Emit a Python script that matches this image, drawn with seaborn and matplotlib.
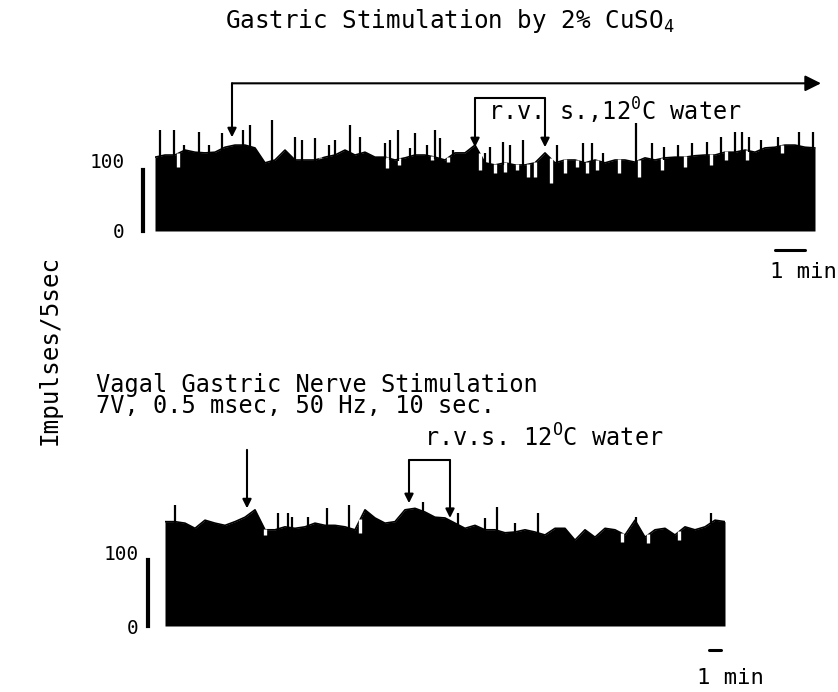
import matplotlib
matplotlib.use('Agg')
import matplotlib.pyplot as plt
import numpy as np
import seaborn as sns

# ---- upper record: gastric stimulation by 2% CuSO4 (time in s) ----
top_t = np.arange(0, 1321, 20)
top_level = [104, 107, 107, 114, 111, 110, 111, 118, 121, 121,
             117, 96, 100, 114, 100, 100, 100, 104, 107, 114,
             107, 111, 104, 104, 100, 103, 107, 107, 104, 100,
             110, 110, 121, 96, 93, 96, 93, 93, 96, 110,
             96, 100, 100, 96, 100, 96, 100, 100, 97, 103,
             100, 103, 104, 104, 106, 107, 107, 111, 111, 114,
             111, 117, 118, 121, 121, 118, 117]
top_spike_t = [10, 38, 58, 88, 108, 134, 176, 190, 234, 280,
               294, 320, 348, 360, 390, 410, 460, 470, 486, 510,
               520, 544, 560, 570, 596, 660, 670, 696, 710, 736,
               804, 856, 874, 896, 962, 994, 1018, 1046, 1074, 1104,
               1132, 1160, 1174, 1188, 1212, 1246, 1288, 1316]
top_spike_v = [142, 142, 121, 139, 121, 138, 142, 149, 156, 132,
               128, 131, 121, 128, 149, 132, 124, 128, 142, 117,
               138, 121, 142, 131, 114, 110, 118, 125, 121, 128,
               121, 124, 124, 110, 152, 124, 118, 121, 124, 125,
               132, 139, 139, 132, 128, 132, 139, 139]
top_dip_t = [46, 330, 464, 488, 554, 586, 650, 680, 700, 724,
             746, 760, 792, 820, 844, 864, 884, 928, 968, 1014,
             1060, 1112, 1142, 1184, 1254]
top_dip_v = [90, 104, 89, 93, 100, 97, 86, 82, 83, 86,
             76, 76, 68, 82, 90, 82, 86, 82, 76, 86,
             90, 93, 100, 100, 110]
top_stim = 154            # CuSO4 given
top_rvs = (640, 780)      # r.v.s., 12 C water

# ---- lower record: vagal gastric nerve stimulation (time in s) ----
bot_t = np.arange(0, 2801, 50)
bot_level = [141, 141, 139, 132, 143, 139, 136, 141, 147, 157,
             130, 130, 134, 132, 134, 139, 136, 136, 134, 130,
             157, 146, 139, 141, 157, 159, 154, 147, 146, 139,
             132, 136, 130, 130, 126, 127, 130, 127, 123, 132,
             132, 116, 130, 120, 132, 130, 123, 143, 120, 130,
             132, 123, 134, 130, 134, 143, 141]
bot_spike_t = [50, 565, 615, 635, 715, 810, 920, 1290, 1465, 1600,
               1660, 1750, 1865, 2355, 2730]
bot_spike_v = [164, 153, 153, 147, 147, 159, 164, 168, 153, 146,
               161, 139, 153, 147, 153]
bot_dip_t = [500, 975, 2285, 2415, 2570]
bot_dip_v = [123, 126, 114, 112, 116]
bot_stim = 410
bot_rvs = (1220, 1425)

sns.set_style('white')
plt.rcParams['font.family'] = ['DejaVu Sans Mono', 'DejaVu Sans']
plt.rcParams['mathtext.fontset'] = 'custom'
plt.rcParams['mathtext.rm'] = 'DejaVu Sans Mono'
plt.rcParams['mathtext.it'] = 'DejaVu Sans Mono'
plt.rcParams['text.color'] = 'black'
plt.rcParams['ytick.color'] = 'black'

W, H = 838, 692
fig = plt.figure(figsize=(W / 100, H / 100), dpi=100)


def px_axes(left, right, base, top):
    return fig.add_axes([left / W, 1 - base / H, (right - left) / W, (base - top) / H])


def ftext(x, y, s, **kw):
    fig.text(x / W, 1 - y / H, s, **kw)


def draw_trace(ax, t, level, spike_t, spike_v, dip_t, dip_v):
    ax.fill_between(t, 0, level, color='black', lw=0)
    sns.lineplot(x=t, y=level, ax=ax, color='black', linewidth=1.2)
    ax.vlines(dip_t, dip_v, np.interp(dip_t, t, level) + 1, color='white', lw=2.4)
    ax.vlines(spike_t, np.interp(spike_t, t, level) - 2, spike_v, color='black', lw=1.6)


def style(ax, xmax, ymax, bar_top, outward, pad):
    ax.set_xlim(0, xmax)
    ax.set_ylim(0, ymax)
    ax.set_facecolor('none')
    for s in ['top', 'right', 'bottom']:
        ax.spines[s].set_visible(False)
    ax.spines['left'].set_bounds(0, bar_top)
    ax.spines['left'].set_position(('outward', outward))
    ax.spines['left'].set_linewidth(3)
    ax.spines['left'].set_color('black')
    ax.set_xticks([])
    ax.set_yticks([0, 100])
    ax.set_yticklabels(['0', '100'])
    ax.tick_params(axis='y', length=0, pad=pad, labelsize=14, labelcolor='black')
    ax.set_xlabel('')
    ax.set_ylabel('')


arrow = dict(arrowstyle='-|>', color='black', lw=1.5, mutation_scale=13, shrinkA=0, shrinkB=0)

# upper panel
ax1 = px_axes(155, 818, 231, 231 - 240 * 0.71)
draw_trace(ax1, top_t, top_level, top_spike_t, top_spike_v, top_dip_t, top_dip_v)
style(ax1, 1326, 240, 86, 9, 13)
ax1.annotate('', xy=(top_stim, 132), xytext=(top_stim, 208), arrowprops=arrow, annotation_clip=False)
ax1.annotate('', xy=(1332, 208), xytext=(top_stim, 208),
             arrowprops=dict(arrow, mutation_scale=24), annotation_clip=False)
ax1.plot(top_rvs, [187, 187], color='black', lw=1.5, clip_on=False)
for t in top_rvs:
    ax1.annotate('', xy=(t, 118), xytext=(t, 187), arrowprops=arrow, annotation_clip=False)
ax1.plot([1240, 1300], [-27, -27], color='black', lw=2.2, clip_on=False)
ax1.text(1230, -66, '1 min', ha='left', va='baseline', fontsize=16)

# lower panel
ax2 = px_axes(165, 725, 626, 626 - 250 * 0.74)
draw_trace(ax2, bot_t, bot_level, bot_spike_t, bot_spike_v, bot_dip_t, bot_dip_v)
style(ax2, 2800, 250, 89, 12, 7)
ax2.annotate('', xy=(bot_stim, 159), xytext=(bot_stim, 238), arrowprops=arrow, annotation_clip=False)
ax2.plot(bot_rvs, [224, 224], color='black', lw=1.5, clip_on=False)
ax2.annotate('', xy=(bot_rvs[0], 166), xytext=(bot_rvs[0], 224), arrowprops=arrow, annotation_clip=False)
ax2.annotate('', xy=(bot_rvs[1], 146), xytext=(bot_rvs[1], 224), arrowprops=arrow, annotation_clip=False)
ax2.plot([2720, 2780], [-32, -32], color='black', lw=2.2, clip_on=False)
ax2.text(2660, -78, '1 min', ha='left', va='baseline', fontsize=16)

# texts
ftext(225, 28, 'Gastric Stimulation by 2% CuSO$_4$', ha='left', va='baseline', fontsize=17.5)
ftext(488, 121, 'r.v. s.,12$^{0}$C water', ha='left', va='baseline', fontsize=17)
ftext(96, 413, 'Vagal Gastric Nerve Stimulation\n7V, 0.5 msec, 50 Hz, 10 sec.',
      ha='left', va='baseline', fontsize=17, linespacing=0.85)
ftext(424, 447, 'r.v.s. 12$^{\\mathrm{O}}$C water', ha='left', va='baseline', fontsize=17)
ftext(50, 350, 'Impulses/5sec', rotation=90, ha='center', va='center', fontsize=17.5)

plt.savefig('out.png', dpi=100)
